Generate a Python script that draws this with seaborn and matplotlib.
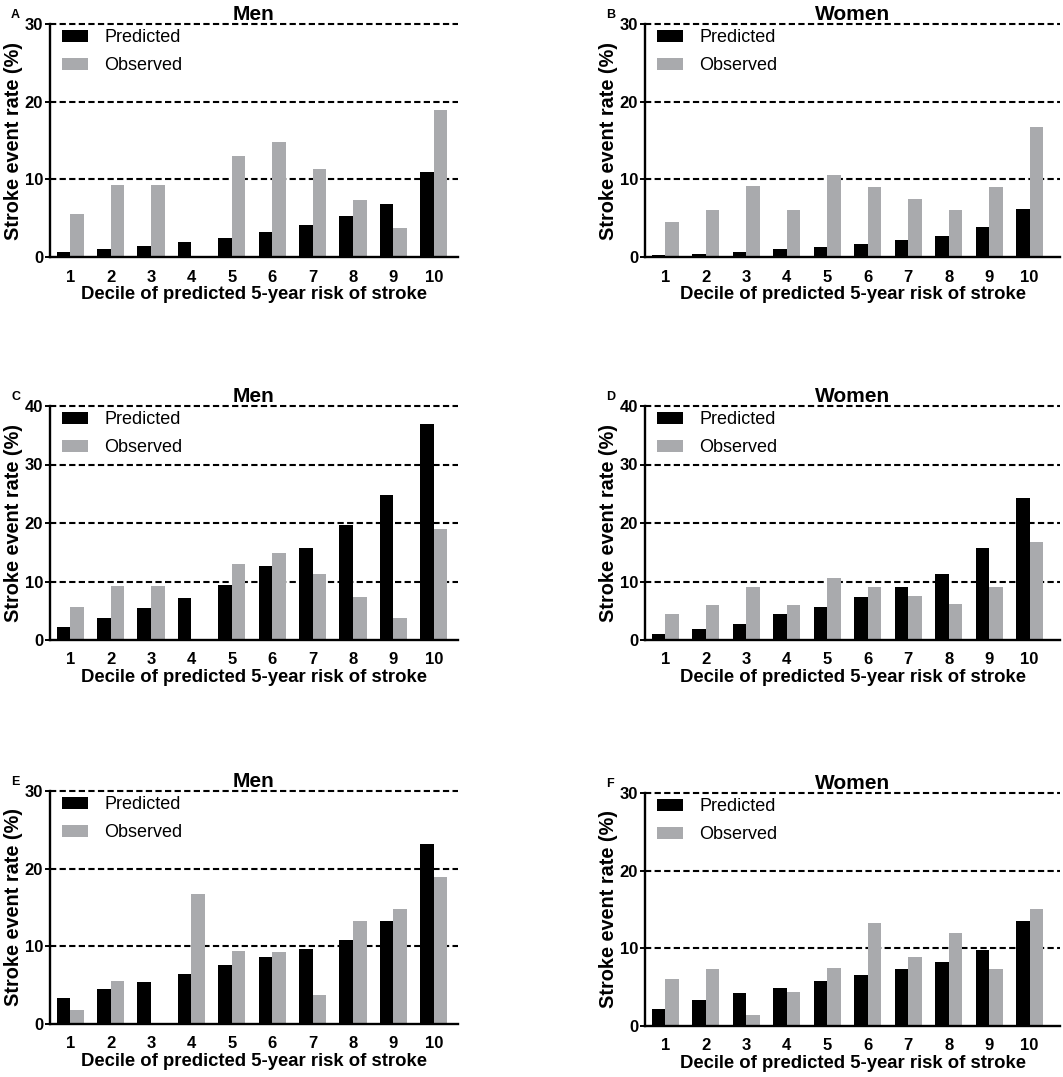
import matplotlib
matplotlib.use("Agg")
import matplotlib.pyplot as plt
import seaborn as sns
import pandas as pd

# deciles and series
deciles = [str(i) for i in range(1, 11)]
series = ["Predicted", "Observed"]

# panel A / B - men / women
pred_a = [0.6, 1.0, 1.4, 1.9, 2.4, 3.25, 4.15, 5.3, 6.85, 10.9]
obs_men = [5.6, 9.3, 9.3, 0.0, 13.0, 14.8, 11.3, 7.4, 3.7, 18.9]
pred_b = [0.3, 0.4, 0.6, 1.0, 1.3, 1.7, 2.2, 2.7, 3.9, 6.2]
obs_women = [4.5, 6.0, 9.1, 6.0, 10.6, 9.0, 7.5, 6.1, 9.0, 16.7]

# panel C / D
pred_c = [2.3, 3.8, 5.4, 7.2, 9.4, 12.6, 15.8, 19.6, 24.8, 36.9]
pred_d = [1.1, 1.8, 2.7, 4.4, 5.7, 7.35, 9.05, 11.3, 15.8, 24.2]

# panel E / F
pred_e = [3.4, 4.5, 5.4, 6.4, 7.6, 8.6, 9.6, 10.85, 13.3, 23.2]
obs_e = [1.8, 5.6, 0.0, 16.7, 9.4, 9.3, 3.7, 13.2, 14.8, 18.9]
pred_f = [2.2, 3.3, 4.2, 4.9, 5.8, 6.6, 7.3, 8.2, 9.8, 13.5]
obs_f = [6.0, 7.4, 1.4, 4.4, 7.5, 13.3, 8.9, 12.0, 7.4, 15.1]

panels = [
    ("A", "Men", pred_a, obs_men, 30),
    ("B", "Women", pred_b, obs_women, 30),
    ("C", "Men", pred_c, obs_men, 40),
    ("D", "Women", pred_d, obs_women, 40),
    ("E", "Men", pred_e, obs_e, 30),
    ("F", "Women", pred_f, obs_f, 30),
]

sns.set_style("white")
plt.rcParams["font.family"] = ["Liberation Sans", "DejaVu Sans"]
for k in ["text.color", "axes.labelcolor", "xtick.color", "ytick.color"]:
    plt.rcParams[k] = "black"

palette = {"Predicted": "#000000", "Observed": "#a9aaad"}

fig = plt.figure(figsize=(10.63, 10.77), dpi=100)
W, H = 1063, 1077

# pixel boxes: (left, top, right, bottom)
boxes = [
    (50, 24, 458, 257),
    (645, 24, 1060, 257),
    (50, 406, 458, 640),
    (645, 406, 1060, 640),
    (50, 791, 458, 1024),
    (645, 793, 1060, 1026),
]

for (letter, title, pred, obs, ymax), (l, t, r, b) in zip(panels, boxes):
    ax = fig.add_axes([l / W, 1 - b / H, (r - l) / W, (b - t) / H])
    df = pd.DataFrame({
        "decile": deciles * 2,
        "series": ["Predicted"] * 10 + ["Observed"] * 10,
        "rate": pred + obs,
    })
    sns.barplot(data=df, x="decile", y="rate", hue="series", hue_order=series,
                palette=palette, width=0.67, gap=0, linewidth=0, saturation=1,
                ax=ax)
    ax.set_ylim(0, ymax)
    ax.set_xlim(-0.5, 9.6 if r < 500 else 9.75)
    ax.set_yticks(range(0, ymax + 1, 10))
    ax.set_axisbelow(True)
    for yv in range(10, ymax + 1, 10):
        ax.axhline(yv, color="black", lw=1.5, ls=(0, (3.0, 1.6)),
                   clip_on=False, zorder=0)
    sns.despine(ax=ax)
    for s in ["left", "bottom"]:
        ax.spines[s].set_linewidth(1.7)
        ax.spines[s].set_color("black")
    ax.tick_params(axis="y", length=3.5, width=1.4, left=True, pad=1.5,
                   labelsize=12)
    ax.tick_params(axis="x", length=0, pad=9, labelsize=12)
    for lab in ax.get_xticklabels() + ax.get_yticklabels():
        lab.set_fontweight("bold")
    ax.set_xlabel("Decile of predicted 5-year risk of stroke", fontsize=13.3,
                  fontweight="bold", labelpad=1)
    ax.set_ylabel("Stroke event rate (%)", fontsize=14.3, fontweight="bold",
                  labelpad=1)
    ax.set_title(title, fontsize=15, fontweight="bold", pad=3)
    ax.legend(loc="upper left", bbox_to_anchor=(0.016, 1.0), frameon=False,
              fontsize=13, handlelength=1.45, handleheight=0.6,
              handletextpad=0.9, labelspacing=0.6, borderaxespad=0,
              borderpad=0.3)
    fig.text((l - 39) / W, 1 - (t - 9) / H, letter, fontsize=9,
             fontweight="bold", ha="left", va="center")

fig.savefig("out.png", dpi=100)
